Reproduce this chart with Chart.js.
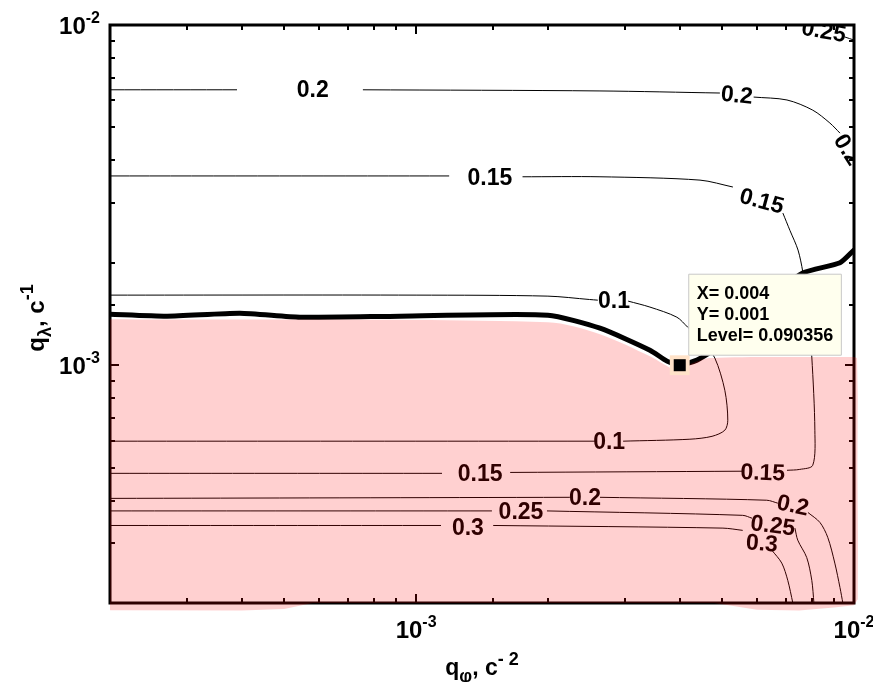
<!DOCTYPE html>
<html>
<head>
<meta charset="utf-8">
<script src="https://cdn.jsdelivr.net/npm/chart.js@4.4.1/dist/chart.umd.min.js"></script>
<style>
  html, body { margin: 0; padding: 0; background: #ffffff; }
  #wrap { width: 873px; height: 682px; }
</style>
</head>
<body>
<div id="wrap"><canvas id="c" width="873" height="682"></canvas></div>
<script>
const FONT = "'Liberation Sans', Arial, Helvetica, sans-serif";

// ---------- axis ranges and tick labels ----------
const xMin = 2e-4, xMax = 1e-2;
const yMin = 2e-4, yMax = 1e-2;
const xTickValues = [1e-3, 1e-2];
const xTickExponents = ['-3', '-2'];
const yTickValues = [1e-3, 1e-2];
const yTickExponents = ['-3', '-2'];
const xTitleParts = [['q', ''], ['\u03C6', 'sub'], [', c', ''], ['- 2', 'sup']];
const yTitleParts = [['q', ''], ['\u03BB', 'sub'], [', c', ''], ['-1', 'sup']];

// ---------- contour lines (each level = list of segments of [x, y]) ----------
const level020Upper = [
  [[2e-4, 6.45e-3], [3.9e-4, 6.45e-3]],
  [[7.56e-4, 6.45e-3], [2.63e-3, 6.4e-3], [4.94e-3, 6.31e-3]],
  [[5.9e-3, 6.14e-3], [7.03e-3, 6.02e-3], [8.05e-3, 5.62e-3], [8.81e-3, 5.15e-3], [9.29e-3, 4.81e-3]]
];
const level025Upper = [
  [[9.53e-3, 9.22e-3], [1e-2, 9.03e-3]]
];
const level015 = [
  [[2e-4, 3.6e-3], [1.19e-3, 3.6e-3]],
  [[1.75e-3, 3.58e-3], [2.63e-3, 3.58e-3], [4.45e-3, 3.5e-3], [5.29e-3, 3.34e-3]],
  [[6.88e-3, 2.8e-3], [7.14e-3, 2.49e-3], [7.45e-3, 2.18e-3], [7.64e-3, 1.88e-3], [7.85e-3, 1.45e-3],
   [8.01e-3, 1.057e-3], [8.14e-3, 6.44e-4], [8.05e-3, 5.08e-4], [7.52e-3, 4.94e-4], [7.03e-3, 4.91e-4]],
  [[5.55e-3, 4.88e-4], [1.64e-3, 4.84e-4]],
  [[1.146e-3, 4.81e-4], [2e-4, 4.81e-4]]
];
const level010 = [
  [[2e-4, 1.607e-3], [1e-3, 1.607e-3], [2e-3, 1.596e-3], [2.49e-3, 1.56e-3], [2.6e-3, 1.553e-3]],
  [[3.05e-3, 1.543e-3], [3.42e-3, 1.482e-3], [3.94e-3, 1.384e-3], [4.17e-3, 1.294e-3], [4.49e-3, 1.186e-3],
   [4.81e-3, 1.05e-3], [5.07e-3, 8.44e-4], [5.15e-3, 6.89e-4], [5.07e-3, 6.44e-4], [4.74e-3, 6.18e-4],
   [4.22e-3, 6.06e-4], [2.97e-3, 5.98e-4]],
  [[2.56e-3, 5.98e-4], [2e-4, 5.98e-4]]
];
const level020Lower = [
  [[2e-4, 4.06e-4], [2.245e-3, 4.09e-4]],
  [[2.63e-3, 4.09e-4], [6.32e-3, 4.01e-4], [6.7e-3, 3.93e-4]],
  [[7.85e-3, 3.69e-4], [8.36e-3, 3.45e-4], [8.71e-3, 3.12e-4], [9.04e-3, 2.62e-4], [9.29e-3, 2.22e-4], [9.43e-3, 2e-4]]
];
const level025Lower = [
  [[2e-4, 3.73e-4], [1.49e-3, 3.73e-4]],
  [[1.99e-3, 3.73e-4], [5.57e-3, 3.62e-4], [5.85e-3, 3.55e-4]],
  [[7.33e-3, 3.32e-4], [7.44e-3, 3.06e-4], [7.8e-3, 2.72e-4], [8.01e-3, 2.33e-4], [8.1e-3, 2e-4]]
];
const level030Lower = [
  [[2e-4, 3.38e-4], [1.14e-3, 3.38e-4]],
  [[1.5e-3, 3.38e-4], [5.02e-3, 3.32e-4], [5.57e-3, 3.27e-4]],
  [[6.49e-3, 2.86e-4], [6.84e-3, 2.62e-4], [7.06e-3, 2.33e-4], [7.25e-3, 2e-4]]
];

// ---------- thick boundary line ----------
const boundaryLine = [
  [2e-4, 1.413e-3], [2.7e-4, 1.394e-3], [3.96e-4, 1.422e-3], [5.43e-4, 1.384e-3], [9.19e-4, 1.394e-3],
  [2e-3, 1.403e-3], [2.63e-3, 1.285e-3], [3.42e-3, 1.107e-3], [3.74e-3, 1.028e-3], [4e-3, 1e-3],
  [4.38e-3, 1.035e-3], [4.69e-3, 1.092e-3], [6.1e-3, 1.5e-3], [7.64e-3, 1.866e-3], [9.29e-3, 2e-3], [1e-2, 2.18e-3]
];

// ---------- shaded region ----------
const shadedTop = [
  [2e-4, 1.365e-3], [2e-3, 1.338e-3], [2.63e-3, 1.234e-3], [3.42e-3, 1.063e-3], [3.94e-3, 9.67e-4],
  [4.22e-3, 1.007e-3], [4.69e-3, 1.05e-3], [1e-2, 1.057e-3]
];
// parts of the shaded region that spill past the frame
const shadedSpillLeft = [
  [2e-4, 2e-4], [2e-4, 1.905e-4], [4e-4, 1.9e-4], [5e-4, 1.92e-4], [5.8e-4, 2e-4]
];
const shadedSpillRight = [
  [4.8e-3, 2e-4], [6e-3, 1.91e-4], [7.5e-3, 1.9e-4], [9e-3, 1.94e-4], [1e-2, 1.97e-4],
  [1.02e-2, 2.05e-4], [1.021e-2, 3e-4], [1.018e-2, 5e-4], [1.02e-2, 8e-4], [1.016e-2, 1.05e-3], [1e-2, 1.057e-3]
];

// ---------- probe point ----------
const probeX = 0.004, probeY = 0.001, probeLevel = 0.090356;

// ---------- contour labels ----------
const labelTexts  = ['0.2', '0.2', '0.2', '0.25', '0.15', '0.15', '0.1', '0.1', '0.15', '0.15', '0.2', '0.2', '0.25', '0.25', '0.3', '0.3'];
const labelX      = [5.81e-4, 5.4e-3, 9.68e-3, 8.53e-3, 1.474e-3, 6.16e-3, 2.83e-3, 2.76e-3, 1.4e-3, 6.19e-3, 2.43e-3, 7.25e-3, 1.736e-3, 6.53e-3, 1.313e-3, 6.16e-3];
const labelY      = [6.44e-3, 6.23e-3, 4.3e-3, 9.6e-3, 3.55e-3, 3.04e-3, 1.543e-3, 5.98e-4, 4.81e-4, 4.84e-4, 4.09e-4, 3.88e-4, 3.71e-4, 3.38e-4, 3.34e-4, 3.0e-4];
const labelAngle  = [0, 6, 58, 10, 0, 15, 0, 0, 0, 2, 0, 12, 0, 7, 0, 4];

// ---------- build datasets ----------
const toPts = seg => seg.map(([x, y]) => ({x, y}));
const datasets = [];
function addLevel(segments) {
  segments.forEach(seg => datasets.push({
    data: toPts(seg), borderColor: '#000', borderWidth: 1, pointRadius: 0,
    fill: false, tension: 0.3, order: 5
  }));
}
[level020Upper, level025Upper, level015, level010, level020Lower, level025Lower, level030Lower].forEach(addLevel);
datasets.push({
  data: toPts(boundaryLine), borderColor: '#000', borderWidth: 5, pointRadius: 0,
  fill: false, tension: 0.2, order: 4, borderJoinStyle: 'round', borderCapStyle: 'round'
});
const SHADE = 'rgba(255,0,0,0.185)';
datasets.push({
  data: toPts(shadedTop), borderWidth: 0, borderColor: 'rgba(0,0,0,0)', pointRadius: 0,
  fill: 'start', backgroundColor: SHADE, tension: 0.3, order: 1
});
datasets.push({
  data: [{x: probeX, y: probeY}], showLine: false, pointStyle: 'rect', pointRadius: 14,
  pointBackgroundColor: '#FFE2C8', pointBorderWidth: 0, order: 0
});
const markerIndex = datasets.length;
datasets.push({
  data: [{x: probeX, y: probeY}], showLine: false, pointStyle: 'rect', pointRadius: 8.5,
  pointBackgroundColor: '#000', pointBorderWidth: 0, order: -1
});

// ---------- helpers ----------
function drawRich(ctx, parts, x, y, align, base, small) {
  const widths = parts.map(([t, k]) => { ctx.font = `bold ${k ? small : base}px ${FONT}`; return ctx.measureText(t).width; });
  const total = widths.reduce((s, w) => s + w, 0);
  let cx = align === 'center' ? x - total / 2 : (align === 'right' ? x - total : x);
  ctx.textAlign = 'left';
  ctx.textBaseline = 'alphabetic';
  parts.forEach(([t, k], i) => {
    ctx.font = `bold ${k ? small : base}px ${FONT}`;
    const dy = k === 'sup' ? -base * 0.45 : (k === 'sub' ? base * 0.3 : 0);
    ctx.fillText(t, cx, y + dy);
    cx += widths[i];
  });
}
const isMajor = v => Math.abs(Math.log10(v) - Math.round(Math.log10(v))) < 1e-6;

const decorPlugin = {
  id: 'decor',
  beforeDatasetsDraw(chart) {
    const {ctx, chartArea: a, scales: {x, y}} = chart;
    ctx.save();
    // contour labels (clipped to plot area)
    ctx.save();
    ctx.beginPath();
    ctx.rect(a.left, a.top, a.right - a.left, a.bottom - a.top);
    ctx.clip();
    ctx.fillStyle = '#000';
    ctx.font = `bold 23px ${FONT}`;
    ctx.textAlign = 'center';
    ctx.textBaseline = 'middle';
    labelTexts.forEach((t, i) => {
      const px = x.getPixelForValue(labelX[i]);
      const py = y.getPixelForValue(labelY[i]);
      ctx.save();
      ctx.translate(px, py);
      ctx.rotate(labelAngle[i] * Math.PI / 180);
      ctx.fillText(t, 0, 1);
      ctx.restore();
    });
    ctx.restore();
    // tick marks on all four sides, pointing inward
    ctx.strokeStyle = '#000';
    ctx.lineWidth = 2;
    const seg = (x1, y1, x2, y2) => { ctx.beginPath(); ctx.moveTo(x1, y1); ctx.lineTo(x2, y2); ctx.stroke(); };
    x.ticks.forEach(t => {
      const v = t.value;
      if (v <= xMin * 1.001 || v >= xMax * 0.999) return;
      const px = Math.round(x.getPixelForValue(v));
      const L = isMajor(v) ? 9 : 5;
      seg(px, a.bottom, px, a.bottom - L);
      seg(px, a.top, px, a.top + L);
    });
    y.ticks.forEach(t => {
      const v = t.value;
      if (v <= yMin * 1.001 || v >= yMax * 0.999) return;
      const py = Math.round(y.getPixelForValue(v));
      const L = isMajor(v) ? 9 : 5;
      seg(a.left, py, a.left + L, py);
      seg(a.right, py, a.right - L, py);
    });
    // frame
    ctx.lineWidth = 3;
    ctx.strokeRect(a.left, a.top, a.right - a.left, a.bottom - a.top);
    ctx.restore();
  },
  afterDatasetsDraw(chart) {
    // shaded region spilling over the frame (outside the plot area only)
    const {ctx, chartArea: a, scales: {x, y}, width, height} = chart;
    ctx.save();
    ctx.beginPath();
    ctx.rect(0, 0, width, height);
    ctx.rect(a.left, a.top, a.right - a.left, a.bottom - a.top);
    ctx.clip('evenodd');
    ctx.fillStyle = SHADE;
    [shadedSpillLeft, shadedSpillRight].forEach(poly => {
      ctx.beginPath();
      poly.forEach(([vx, vy], i) => {
        const px = x.getPixelForValue(vx), py = y.getPixelForValue(vy);
        if (i === 0) ctx.moveTo(px, py); else ctx.lineTo(px, py);
      });
      ctx.closePath();
      ctx.fill();
    });
    ctx.restore();
  },
  afterDraw(chart) {
    const {ctx, chartArea: a, scales: {x, y}} = chart;
    ctx.save();
    ctx.fillStyle = '#000';
    xTickValues.forEach((v, i) => {
      const px = x.getPixelForValue(v);
      drawRich(ctx, [['10', ''], [xTickExponents[i], 'sup']], px, a.bottom + 35, 'center', 24, 16);
    });
    yTickValues.forEach((v, i) => {
      const py = y.getPixelForValue(v);
      drawRich(ctx, [['10', ''], [yTickExponents[i], 'sup']], a.left - 10, py + 9, 'right', 24, 16);
    });
    drawRich(ctx, xTitleParts, (a.left + a.right) / 2, a.bottom + 72, 'center', 23, 18);
    ctx.save();
    ctx.translate(a.left - 66, (a.top + a.bottom) / 2 + 4);
    ctx.rotate(-Math.PI / 2);
    drawRich(ctx, yTitleParts, 0, 0, 'center', 24, 18);
    ctx.restore();
    ctx.restore();
  }
};

Chart.Tooltip.positioners.probeBox = function (elements) {
  if (!elements.length) return false;
  const el = elements[0].element;
  return {x: el.x + 9, y: el.y - 91};
};

const chart = new Chart(document.getElementById('c').getContext('2d'), {
  type: 'line',
  data: {datasets},
  options: {
    responsive: false,
    animation: false,
    events: [],
    layout: {padding: {left: 110, top: 25, right: 19, bottom: 79}},
    scales: {
      x: {type: 'logarithmic', min: xMin, max: xMax, display: false},
      y: {type: 'logarithmic', min: yMin, max: yMax, display: false}
    },
    plugins: {
      legend: {display: false},
      tooltip: {
        enabled: true,
        position: 'probeBox',
        xAlign: 'left',
        yAlign: 'top',
        caretSize: 0,
        caretPadding: 0,
        cornerRadius: 0,
        backgroundColor: '#FFFFEE',
        borderColor: '#C8C8C8',
        borderWidth: 1,
        bodyColor: '#000',
        bodyFont: {family: FONT, size: 18, weight: 'bold', lineHeight: 1.1667},
        bodySpacing: 0,
        padding: {top: 9, bottom: 9, left: 8, right: 8},
        displayColors: false,
        callbacks: {
          title: () => [],
          label: () => ['X= ' + probeX, 'Y= ' + probeY, 'Level= ' + probeLevel]
        }
      }
    }
  },
  plugins: [decorPlugin]
});

chart.tooltip.setActiveElements([{datasetIndex: markerIndex, index: 0}], {x: 0, y: 0});
chart.draw();
</script>
</body>
</html>
